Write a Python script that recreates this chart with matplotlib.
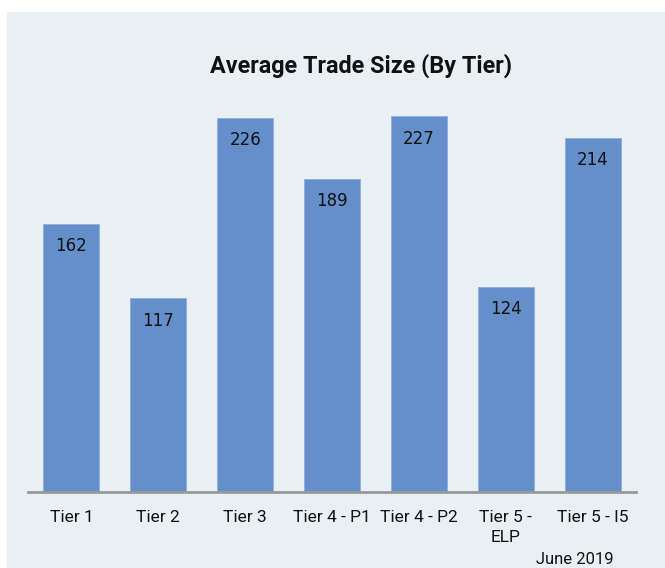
import matplotlib
matplotlib.use("Agg")
import matplotlib.pyplot as plt
from matplotlib.patches import Rectangle

categories = ["Tier 1", "Tier 2", "Tier 3", "Tier 4 - P1", "Tier 4 - P2", "Tier 5 -\nELP", "Tier 5 - I5"]
values = [162, 117, 226, 189, 227, 124, 214]
title = "Average Trade Size (By Tier)"
footnote = "June 2019"

cond = "Roboto"

W, H = 665, 568
fig = plt.figure(figsize=(W / 100, H / 100), dpi=100)
fig.patch.set_facecolor("white")
fig.patches.append(Rectangle((7 / W, 0), 1 - 7 / W, 1 - 12 / H, transform=fig.transFigure,
                             facecolor="#e9f0f4", edgecolor="none", zorder=-5))

left, right, bottom, top = 28, 636, 492, 100
ax = fig.add_axes([left / W, 1 - bottom / H, (right - left) / W, (bottom - top) / H])
ax.set_facecolor("none")
ax.set_zorder(2)
x = list(range(len(categories)))
bars = ax.bar(x, values, width=0.645, color="#648fcb", edgecolor="#8eaedb", linewidth=0.6, zorder=2)
ax.set_xlim(-0.5, len(categories) - 0.5)
ax.set_ylim(0, 392 / 1.655)
for s in ["top", "right", "left"]:
    ax.spines[s].set_visible(False)
ax.spines["bottom"].set_color("#999999")
ax.spines["bottom"].set_linewidth(2)
ax.set_yticks([])
ax.set_xticks(x)
ax.set_xticklabels(categories, fontsize=12.5, family=cond, color="#111111", linespacing=1.4)
ax.tick_params(axis="x", length=0, pad=13)
for xi, v in zip(x, values):
    ax.annotate(str(v), (xi, v), xytext=(0, -16), textcoords="offset points",
                ha="center", va="center", fontsize=12, color="#111111")
fig.text(0.543, 1 - 66 / H, title, ha="center", va="center", fontsize=16.8,
         fontweight="bold", family=cond, color="#111111")
fig.text(575 / W, 1 - 560 / H, footnote, ha="center", va="center", fontsize=12,
         family=cond, color="#111111")
fig.savefig("out.png", dpi=100, facecolor="white")
